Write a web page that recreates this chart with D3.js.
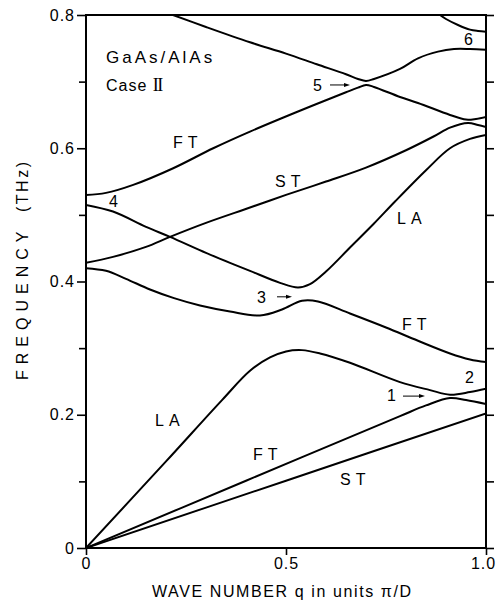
<!DOCTYPE html>
<html>
<head>
<meta charset="utf-8">
<script src="https://cdn.jsdelivr.net/npm/d3@7"></script>
<style>
  body { margin: 0; background: #fff; }
  svg { display: block; font-family: "Liberation Sans", Arial, sans-serif; }
</style>
</head>
<body>
<script>
// phonon branches of the GaAs/AlAs superlattice, q in units pi/D, frequency in THz
const stLow  = [[0,0],[0.5,0.101],[1.0,0.202]];
const ftLow  = [[0,0],[0.4,0.101],[0.785,0.198],[0.85,0.214],[0.91,0.225],[0.95,0.222],[1.0,0.216]];
const laLow  = [[0,0],[0.2,0.130],[0.34,0.222],[0.41,0.266],[0.46,0.286],[0.5,0.295],[0.54,0.297],
                [0.585,0.292],[0.66,0.278],[0.785,0.249],[0.86,0.237],[0.91,0.230],[0.96,0.234],[1.0,0.239]];
const ftMid  = [[0,0.420],[0.05,0.416],[0.1,0.404],[0.16,0.388],[0.22,0.375],[0.285,0.364],[0.36,0.355],
                [0.435,0.349],[0.49,0.358],[0.54,0.371],[0.58,0.370],[0.66,0.352],[0.75,0.331],
                [0.83,0.311],[0.91,0.292],[0.96,0.283],[1.0,0.279]];
const branch4 = [[0,0.515],[0.0675,0.505],[0.15,0.482],[0.21,0.467],[0.3,0.443],[0.36,0.428],[0.41,0.416],
                [0.485,0.398],[0.53,0.391],[0.56,0.396],[0.60,0.415],[0.66,0.451],[0.72,0.487],
                [0.7725,0.520],[0.85,0.567],[0.91,0.600],[0.96,0.614],[1.0,0.620]];
const stMid  = [[0,0.428],[0.0675,0.437],[0.15,0.452],[0.21,0.467],[0.3,0.488],[0.41,0.511],[0.5,0.530],
                [0.6,0.550],[0.7,0.571],[0.8,0.597],[0.87,0.618],[0.91,0.631],[0.955,0.638],[0.98,0.635],[1.0,0.632]];
const ftTop  = [[0,0.530],[0.05,0.533],[0.118,0.545],[0.218,0.570],[0.318,0.600],[0.41,0.625],[0.55,0.660],
                [0.65,0.684],[0.68,0.691],[0.70,0.695],[0.72,0.692],[0.785,0.677],[0.83,0.668],
                [0.91,0.650],[0.95,0.643],[0.975,0.644],[1.0,0.647]];
const branch5 = [[0.2175,0.8],[0.3,0.782],[0.41,0.759],[0.5,0.742],[0.577,0.726],[0.65,0.711],[0.68,0.704],
                [0.70,0.701],[0.72,0.704],[0.785,0.719],[0.83,0.735],[0.88,0.745],[0.92,0.749],[0.96,0.749],[1.0,0.748]];
const branch6 = [[0.885,0.8],[0.9,0.794],[0.93,0.785],[0.96,0.778],[0.98,0.776],[1.0,0.775]];

const branches = [stLow, ftLow, laLow, ftMid, branch4, stMid, ftTop, branch5, branch6];

const yTicks = [0,0.1,0.2,0.3,0.4,0.5,0.6,0.7,0.8];
const yTickLabels = ["0","","0.2","","0.4","","0.6","","0.8"];
const xTicks = [0,0.5,1.0];
const xTickLabels = ["0","0.5","1.0"];

// curve labels: text, q, f (baseline left)
const labels = [
  ["FT", 0.2175, 0.601], ["ST", 0.4725, 0.542], ["4", 0.0575, 0.512], ["5", 0.5675, 0.686],
  ["6", 0.945, 0.755], ["LA", 0.7775, 0.486], ["3", 0.4275, 0.368], ["FT", 0.79, 0.327],
  ["2", 0.9475, 0.248], ["1", 0.7525, 0.221], ["LA", 0.1725, 0.183], ["FT", 0.4175, 0.132],
  ["ST", 0.635, 0.095]
];
// small arrows: q start, q end, f
const arrows = [[0.61,0.66,0.695],[0.4775,0.515,0.377],[0.7925,0.8475,0.228]];

const W = 497, H = 601;
const svg = d3.select("body").append("svg").attr("width", W).attr("height", H);

const x = d3.scaleLinear().domain([0,1]).range([86,486]);
const y = d3.scaleLinear().domain([0,0.8]).range([548,15]);

svg.append("clipPath").attr("id","plot")
  .append("rect").attr("x",86).attr("y",15).attr("width",400).attr("height",533);

// axes
const gl = svg.append("g").attr("transform","translate(86,0)")
  .call(d3.axisLeft(y).tickValues(yTicks).tickSize(9).tickSizeOuter(0).tickPadding(2)
    .tickFormat((d,i) => yTickLabels[i]));
const gr = svg.append("g").attr("transform","translate(486,0)")
  .call(d3.axisRight(y).tickValues(yTicks).tickSize(8).tickSizeOuter(0).tickFormat(""));
const gb = svg.append("g").attr("transform","translate(0,548)")
  .call(d3.axisBottom(x).tickValues(xTicks).tickSize(7).tickSizeOuter(0).tickPadding(3)
    .tickFormat((d,i) => xTickLabels[i]));

[gl,gr,gb].forEach(g => {
  g.select(".domain").remove();
  g.selectAll("line").attr("stroke","#000").attr("stroke-width",1.6);
  g.selectAll("text").attr("fill","#000").style("font-size","16px").style("letter-spacing","1px")
    .style("font-family",'"Liberation Sans", Arial, sans-serif');
});
gl.selectAll(".tick line").filter((d,i) => yTickLabels[i] === "").attr("x2",-7);
gb.selectAll(".tick text").filter((d,i) => i === 2).attr("x",-3);

svg.append("rect").attr("x",86).attr("y",15).attr("width",400).attr("height",533)
  .attr("fill","none").attr("stroke","#000").attr("stroke-width",2);

// branches
const line = d3.line().x(d => x(d[0])).y(d => y(d[1])).curve(d3.curveCatmullRom.alpha(0.5));
svg.append("g").attr("clip-path","url(#plot)")
  .selectAll("path").data(branches).enter().append("path")
  .attr("d", line).attr("fill","none").attr("stroke","#000")
  .attr("stroke-width",2).attr("stroke-linejoin","round");

// labels
svg.append("g").selectAll("text").data(labels).enter().append("text")
  .attr("x", d => x(d[1])).attr("y", d => y(d[2]))
  .style("font-size","16px").style("letter-spacing","5px")
  .text(d => d[0]);

const ag = svg.append("g");
arrows.forEach(a => {
  const x0 = x(a[0]), x1 = x(a[1]), yy = y(a[2]);
  ag.append("line").attr("x1",x0).attr("x2",x1-4).attr("y1",yy).attr("y2",yy)
    .attr("stroke","#000").attr("stroke-width",1);
  ag.append("path").attr("d",`M${x1},${yy}L${x1-6},${yy-2}L${x1-6},${yy+2}Z`).attr("fill","#000");
});

// inset text
const inset = svg.append("g");
inset.append("text").attr("x", x(0.05)).attr("y", y(0.728))
  .style("font-size","17px").style("letter-spacing","3px").text("GaAs/AlAs");
const cs = inset.append("text").attr("x", x(0.05)).attr("y", y(0.686))
  .style("font-size","16px").style("letter-spacing","1px");
cs.append("tspan").text("Case ");
cs.append("tspan").style("font-family",'"Liberation Serif", serif').style("font-size","18px")
  .style("letter-spacing","-1.5px").text("II");

// axis titles
svg.append("text").attr("transform","translate(28,380) rotate(-90)")
  .style("font-size","16px").style("letter-spacing","6px").text("FREQUENCY");
svg.append("text").attr("transform","translate(28,212) rotate(-90)")
  .style("font-size","16px").style("letter-spacing","2.5px").text("(THz)");
svg.append("text").attr("x",152).attr("y",597)
  .style("font-size","16px").style("letter-spacing","1.6px").text("WAVE NUMBER q in units π/D");
</script>
</body>
</html>
